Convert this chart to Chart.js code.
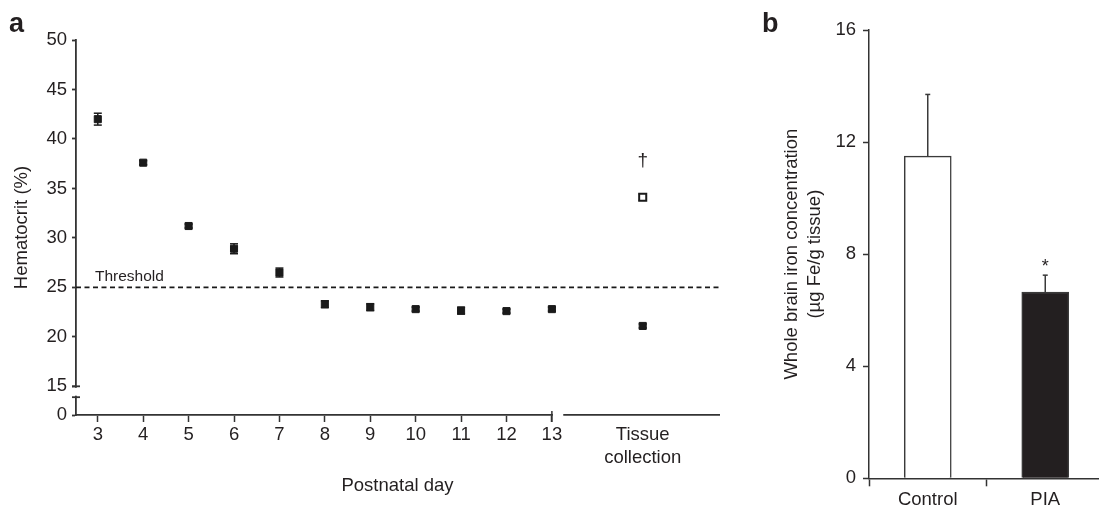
<!DOCTYPE html>
<html><head><meta charset="utf-8">
<script src="https://cdn.jsdelivr.net/npm/chart.js@4.4.1/dist/chart.umd.min.js"></script>
<style>
html,body{margin:0;padding:0;background:#fff;overflow:hidden;width:1099px;height:509px;position:relative}
canvas{position:absolute;top:0}
#ca{left:0}
#cb{left:740px}
</style></head><body>
<canvas id="ca" width="740" height="509"></canvas>
<canvas id="cb" width="365" height="509"></canvas>
<script>
// ---- Panel a data ----
const days = [3, 4, 5, 6, 7, 8, 9, 10, 11, 12, 13];
const hctMean = [42.0, 37.6, 31.2, 28.9, 26.5, 23.3, 23.0, 22.8, 22.65, 22.6, 22.8];
const hctErr = [0.6, 0.2, 0.2, 0.5, 0.45, 0.35, 0.35, 0.2, 0.35, 0.2, 0.2];
const tissueX = 15;
const tissueLabel = ['Tissue', 'collection'];
const tissuePIA = [21.1];
const tissuePIAErr = [0.2];
const tissueControl = [34.1];
const tissueControlErr = [0.3];
const thresholdValue = 25;
const yTicksA = [15, 20, 25, 30, 35, 40, 45, 50];
const yZeroLabel = '0';
// ---- Panel b data ----
const groups = ['Control', 'PIA'];
const ironMean = [11.5, 6.65];
const ironErr = [2.2, 0.6];
const yTicksB = [0, 4, 8, 12, 16];

const INK = '#231f20';
const AXIS = '#333333';
const FONT = '"Liberation Sans", Arial, Helvetica, sans-serif';
const FS = 18.5;
const Y_ZERO_AT = 12.1;     // broken axis: "0" drawn at this position
const Y_BREAK_LOW = 13.9;
const X_BREAK_END = 13.25;

function seg(ctx, x1, y1, x2, y2) { ctx.beginPath(); ctx.moveTo(x1, y1); ctx.lineTo(x2, y2); ctx.stroke(); }

const errPluginA = {
  id: 'errA',
  beforeDatasetsDraw(chart) {
    const ctx = chart.ctx, ys = chart.scales.y, xs = chart.scales.x;
    ctx.save();
    ctx.strokeStyle = '#1a1a1a'; ctx.lineWidth = 1.5;
    chart.data.datasets.forEach(ds => {
      ds.data.forEach((p, i) => {
        const e = ds.errs[i];
        const x = xs.getPixelForValue(p.x);
        const yt = ys.getPixelForValue(p.y + e), yb = ys.getPixelForValue(p.y - e);
        seg(ctx, x, yt, x, yb);
        seg(ctx, x - 4, yt, x + 4, yt);
        seg(ctx, x - 4, yb, x + 4, yb);
      });
    });
    ctx.restore();
  }
};

const decoA = {
  id: 'decoA',
  afterDraw(chart) {
    const ctx = chart.ctx, xs = chart.scales.x, ys = chart.scales.y, ca = chart.chartArea;
    ctx.save();
    // y-axis break
    const y15 = ys.getPixelForValue(15), yLow = ys.getPixelForValue(Y_BREAK_LOW);
    ctx.fillStyle = '#fff';
    ctx.fillRect(ca.left - 3, y15 + 1.5, 6, yLow - y15 - 3);
    ctx.strokeStyle = AXIS; ctx.lineWidth = 1.8;
    seg(ctx, ca.left - 4, y15, ca.left + 4, y15);
    seg(ctx, ca.left - 4, yLow, ca.left + 4, yLow);
    // x-axis break
    const x13 = xs.getPixelForValue(13), xb = xs.getPixelForValue(X_BREAK_END);
    ctx.fillStyle = '#fff';
    ctx.fillRect(x13 + 1, ca.bottom - 3, xb - x13 - 1, 6);
    ctx.lineWidth = 1.5;
    seg(ctx, x13, ca.bottom - 4, x13, ca.bottom + 7);
    // threshold
    const yt = ys.getPixelForValue(thresholdValue);
    ctx.setLineDash([5, 3.5]); ctx.lineWidth = 1.8; ctx.strokeStyle = '#1a1a1a';
    seg(ctx, ca.left, yt, ca.right, yt);
    ctx.setLineDash([]);
    ctx.fillStyle = INK; ctx.font = '15.5px ' + FONT; ctx.textBaseline = 'alphabetic'; ctx.textAlign = 'left';
    ctx.fillText('Threshold', ca.left + 19, yt - 6);
    // dagger
    const xt = xs.getPixelForValue(tissueX), yc = ys.getPixelForValue(tissueControl[0]);
    ctx.textAlign = 'center'; ctx.font = '19px ' + FONT;
    ctx.fillText('†', xt, yc - 31);
    // panel label
    ctx.textAlign = 'left'; ctx.font = 'bold 27px ' + FONT;
    ctx.fillText('a', 9, 32);
    ctx.restore();
  }
};

new Chart(document.getElementById('ca'), {
  type: 'scatter',
  data: {
    datasets: [
      { label: 'PIA',
        data: days.map((d, i) => ({ x: d, y: hctMean[i] })).concat(tissuePIA.map(v => ({ x: tissueX, y: v }))),
        errs: hctErr.concat(tissuePIAErr),
        pointStyle: 'rect', pointRadius: 5, borderWidth: 1, backgroundColor: '#1a1a1a', borderColor: '#1a1a1a' },
      { label: 'Control',
        data: tissueControl.map(v => ({ x: tissueX, y: v })),
        errs: tissueControlErr,
        pointStyle: 'rect', pointRadius: 5, borderWidth: 2, backgroundColor: '#fff', borderColor: '#1a1a1a' }
    ]
  },
  options: {
    responsive: false, animation: false, devicePixelRatio: 1,
    layout: { padding: { top: 40, right: 21, bottom: 0, left: 0 } },
    plugins: { legend: { display: false }, tooltip: { enabled: false } },
    scales: {
      x: {
        type: 'linear', min: 2.52, max: 16.68,
        afterBuildTicks: s => { s.ticks = days.concat([tissueX]).map(v => ({ value: v })); },
        afterFit: s => { s.height = 94; },
        ticks: { callback: v => v === tissueX ? tissueLabel : String(v), color: INK,
                 font: { family: FONT, size: FS, lineHeight: 1.23 }, padding: 2, maxRotation: 0, autoSkip: false },
        grid: { drawOnChartArea: false, drawTicks: true, tickLength: 7, tickWidth: 1.5,
                tickColor: c => (c.tick && c.tick.value === tissueX) ? 'rgba(0,0,0,0)' : AXIS },
        border: { color: AXIS, width: 1.8 },
        title: { display: true, text: 'Postnatal day', color: INK, font: { family: FONT, size: FS }, padding: { top: 0, bottom: 12 } }
      },
      y: {
        type: 'linear', min: Y_ZERO_AT, max: 50,
        afterBuildTicks: s => { s.ticks = [{ value: Y_ZERO_AT }].concat(yTicksA.map(v => ({ value: v }))); },
        afterFit: s => { s.width = 76; },
        ticks: { callback: v => v === Y_ZERO_AT ? yZeroLabel : String(v), color: INK,
                 font: { family: FONT, size: FS }, padding: 5, autoSkip: false },
        grid: { drawOnChartArea: false, drawTicks: true, tickLength: 4, tickWidth: 1.8, tickColor: AXIS },
        border: { color: AXIS, width: 1.8 },
        title: { display: true, text: 'Hematocrit (%)', color: INK, font: { family: FONT, size: FS }, padding: { top: 11, bottom: 0 } }
      }
    }
  },
  plugins: [errPluginA, decoA]
});

const decoB = {
  id: 'decoB',
  afterDatasetsDraw(chart) {
    const ctx = chart.ctx, ys = chart.scales.y, meta = chart.getDatasetMeta(0);
    ctx.save();
    ctx.strokeStyle = '#3a3a3a'; ctx.lineWidth = 1.5;
    meta.data.forEach((bar, i) => {
      const yTop = ys.getPixelForValue(ironMean[i]);
      const yE = ys.getPixelForValue(ironMean[i] + ironErr[i]);
      seg(ctx, bar.x, yTop, bar.x, yE);
      seg(ctx, bar.x - 2.5, yE, bar.x + 2.5, yE);
    });
    // significance mark
    const pia = meta.data[1];
    ctx.fillStyle = INK; ctx.font = '18px ' + FONT; ctx.textAlign = 'center'; ctx.textBaseline = 'alphabetic';
    ctx.fillText('*', pia.x, ys.getPixelForValue(ironMean[1] + ironErr[1]) - 3);
    ctx.textAlign = 'left'; ctx.font = 'bold 27px ' + FONT;
    ctx.fillText('b', 22, 32);
    ctx.restore();
  }
};

new Chart(document.getElementById('cb'), {
  type: 'bar',
  data: {
    labels: groups,
    datasets: [{ data: ironMean, backgroundColor: ['#ffffff', '#231f20'], borderColor: '#3a3a3a',
                 borderWidth: 1.5, barThickness: 47 }]
  },
  options: {
    responsive: false, animation: false, devicePixelRatio: 1,
    layout: { padding: { top: 30, right: 1, bottom: 0, left: 0 } },
    plugins: { legend: { display: false }, tooltip: { enabled: false } },
    scales: {
      x: {
        afterFit: s => { s.height = 30.7; },
        ticks: { color: INK, font: { family: FONT, size: FS }, padding: 3 },
        grid: { offset: true, drawOnChartArea: false, tickLength: 8, tickWidth: 1.5, tickColor: AXIS },
        border: { color: AXIS, width: 1.5 }
      },
      y: {
        min: 0, max: 16,
        afterBuildTicks: s => { s.ticks = yTicksB.map(v => ({ value: v })); },
        afterFit: s => { s.width = 129; },
        ticks: { color: INK, font: { family: FONT, size: FS }, padding: 7 },
        grid: { drawOnChartArea: false, tickLength: 6, tickWidth: 1.5, tickColor: AXIS },
        border: { color: AXIS, width: 1.5 },
        title: { display: true, text: ['Whole brain iron concentration', '(µg Fe/g tissue)'], color: INK,
                 font: { family: FONT, size: FS, lineHeight: 1.25 }, padding: { top: 40, bottom: 0 } }
      }
    }
  },
  plugins: [decoB]
});
</script>
</body></html>
